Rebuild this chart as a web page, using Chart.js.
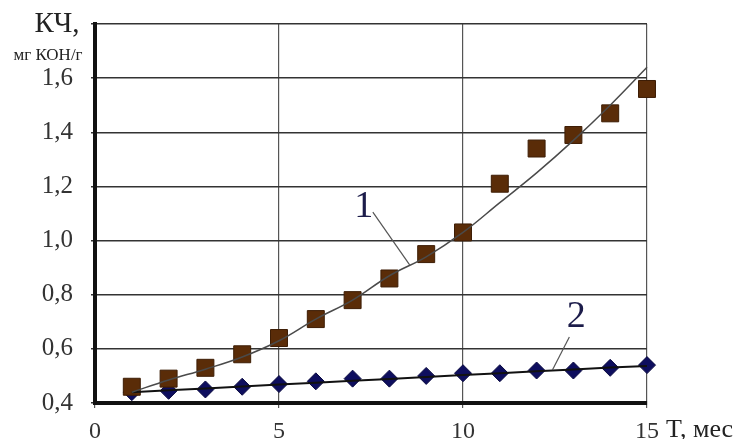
<!DOCTYPE html>
<html>
<head>
<meta charset="utf-8">
<script src="https://cdn.jsdelivr.net/npm/chart.js@4/dist/chart.umd.min.js"></script>
<style>
  html, body { margin: 0; padding: 0; background: #fff; }
  #wrap { width: 747px; height: 439px; position: relative; }
</style>
</head>
<body>
<div id="wrap"><canvas id="c" width="747" height="439"></canvas></div>
<script>
// ---- data ----
const months = [1, 2, 3, 4, 5, 6, 7, 8, 9, 10, 11, 12, 13, 14, 15];
const series1 = [0.46, 0.49, 0.53, 0.58, 0.64, 0.71, 0.78, 0.86, 0.95, 1.03, 1.21, 1.34, 1.39, 1.47, 1.56];
const series2 = [0.44, 0.445, 0.45, 0.46, 0.47, 0.48, 0.49, 0.49, 0.50, 0.51, 0.51, 0.52, 0.52, 0.53, 0.54];
const trend1  = [0.44, 0.485, 0.525, 0.57, 0.63, 0.71, 0.78, 0.87, 0.94, 1.03, 1.14, 1.25, 1.37, 1.50, 1.64];
const trend2  = [0.44, 0.447, 0.454, 0.461, 0.468, 0.475, 0.482, 0.489, 0.496, 0.503, 0.510, 0.517, 0.524, 0.531, 0.537];
const xTicks = [0, 5, 10, 15];
const yTicks = [0.4, 0.6, 0.8, 1.0, 1.2, 1.4, 1.6, 1.8];
const curveLabels = ['1', '2'];

const pts = (xs, ys) => xs.map((x, i) => ({ x: x, y: ys[i] }));

// annotation anchors in data units
const annot = [
  { text: curveLabels[0], at: [7.30, 1.124], from: [7.55, 1.105], to: [8.55, 0.91] },
  { text: curveLabels[1], at: [13.08, 0.718], from: [12.89, 0.644], to: [12.43, 0.522] }
];

const serif = "'Liberation Serif', 'Times New Roman', serif";

const extras = {
  id: 'extras',
  afterDatasetsDraw(chart) {
    const { ctx, scales: { x, y } } = chart;
    ctx.save();
    annot.forEach(a => {
      ctx.strokeStyle = '#555';
      ctx.lineWidth = 1.2;
      ctx.beginPath();
      ctx.moveTo(x.getPixelForValue(a.from[0]), y.getPixelForValue(a.from[1]));
      ctx.lineTo(x.getPixelForValue(a.to[0]), y.getPixelForValue(a.to[1]));
      ctx.stroke();
      ctx.fillStyle = '#1c1c4a';
      ctx.font = '38px ' + serif;
      ctx.textAlign = 'center';
      ctx.textBaseline = 'middle';
      ctx.fillText(a.text, x.getPixelForValue(a.at[0]), y.getPixelForValue(a.at[1]));
    });
    ctx.fillStyle = '#222';
    ctx.textAlign = 'center';
    ctx.textBaseline = 'middle';
    ctx.font = '29px ' + serif;
    ctx.fillText('КЧ,', 57, 24);
    ctx.font = '17px ' + serif;
    ctx.fillText('мг КОН/г', 48, 56);
    ctx.textAlign = 'left';
    ctx.font = '26px ' + serif;
    ctx.fillText('T, мес', 666, 430);
    ctx.restore();
  }
};

const chart = new Chart(document.getElementById('c'), {
  type: 'scatter',
  data: {
    datasets: [
      {
        label: 'trend1', type: 'line', data: pts(months, trend1),
        borderColor: '#4a4a4a', borderWidth: 1.5, pointRadius: 0,
        tension: 0.4, fill: false, clip: false
      },
      {
        label: 'trend2', type: 'line', data: pts(months, trend2),
        borderColor: '#111', borderWidth: 2, pointRadius: 0,
        tension: 0, fill: false, clip: false
      },
      {
        label: '1', data: pts(months, series1),
        pointStyle: 'rect', pointRadius: 12, pointHoverRadius: 12,
        backgroundColor: '#5a2c08', borderColor: '#3d1d05', borderWidth: 1, clip: false
      },
      {
        label: '2', data: pts(months, series2),
        pointStyle: 'rectRot', pointRadius: 8.5, pointHoverRadius: 8.5,
        backgroundColor: '#0e0e5e', borderColor: '#0a0a40', borderWidth: 1, clip: false
      }
    ]
  },
  options: {
    responsive: false,
    animation: false,
    events: [],
    layout: { padding: { left: 0, top: 24, right: 100, bottom: 0 } },
    plugins: { legend: { display: false }, tooltip: { enabled: false } },
    scales: {
      x: {
        type: 'linear', min: 0, max: 15,
        afterBuildTicks: s => { s.ticks = xTicks.map(v => ({ value: v })); },
        afterFit: s => { s.height = 36; s.paddingLeft = 0; s.paddingRight = 0; },
        grid: { color: '#555', lineWidth: 1.2, tickLength: 5 },
        border: { color: '#111', width: 4 },
        ticks: {
          color: '#333', padding: 9,
          font: { family: serif, size: 24 },
          maxRotation: 0,
          callback: v => String(v)
        }
      },
      y: {
        type: 'linear', min: 0.4, max: 1.8,
        afterBuildTicks: s => { s.ticks = yTicks.map(v => ({ value: v })); },
        afterFit: s => { s.width = 95; s.paddingTop = 0; s.paddingBottom = 0; },
        grid: { color: '#333', lineWidth: 1.5, tickLength: 4 },
        border: { color: '#111', width: 4 },
        ticks: {
          color: '#333', padding: 18,
          font: { family: serif, size: 25 },
          callback: v => (Math.abs(v - 1.8) < 1e-6 ? '' : v.toFixed(1).replace('.', ','))
        }
      }
    }
  },
  plugins: [extras]
});
</script>
</body>
</html>
